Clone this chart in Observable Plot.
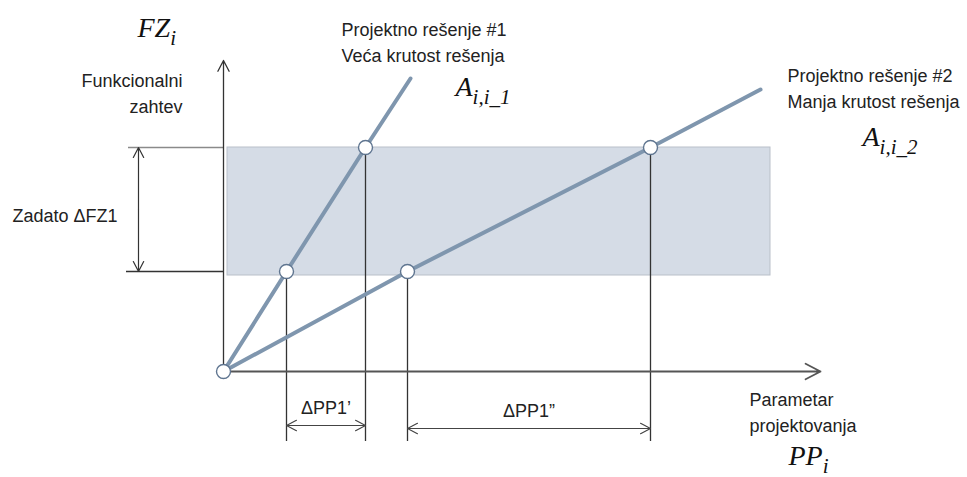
<!DOCTYPE html>
<html><head><meta charset="utf-8">
<script src="https://cdn.jsdelivr.net/npm/d3@7"></script>
<script src="https://cdn.jsdelivr.net/npm/@observablehq/plot@0.6"></script>
<style>html,body{margin:0;padding:0;background:#fff;} svg{display:block;overflow:visible;}</style>
</head><body><div id="chart"></div>
<script>
// Design-space units: origin of FZ (vertical) / PP (horizontal) axes at (0,0)
const fzRequirement = [100, 224];          // lower and upper required FZ
const bandX = [4, 547];
const bandY = [96, 224];
const solution1 = [[0, 0], [63, 100], [142, 224], [187, 293]];
const solution2 = [[0, 0], [184, 100], [427, 224], [537, 282]];
const nodes = [[0, 0], [63, 100], [142, 224], [184, 100], [427, 224]];
const dropPoints = [[63, 100], [142, 224], [184, 100], [427, 224]];
const dropBottom = -70;
const axisEnds = {x: 597, y: 311};
const leftTicks = [[-95, 224, "#8a8a8a"], [-97, 100, "#333"]];
const fzArrowX = -85;
const dimensions = [
  {label: "ΔPP1’", from: 63, to: 142, y: -54, ly: -37},
  {label: "ΔPP1”", from: 184, to: 427, y: -57, ly: -40}
];
const textLabels = [
  {text: "Zadato ΔFZ1", x: -211, y: 158, anchor: "start"},
  {text: "Funkcionalni\nzahtev", x: -41, y: 280, anchor: "end"},
  {text: "Projektno rešenje #1\nVeća krutost rešenja", x: 118, y: 331, anchor: "start"},
  {text: "Projektno rešenje #2\nManja krutost rešenja", x: 564, y: 285, anchor: "start"},
  {text: "Parametar\nprojektovanja", x: 526, y: -39, anchor: "start"}
];
const mathLabels = [
  {text: "FZ|i", x: -86, y: 343},
  {text: "A|i,i_1", x: 232, y: 284},
  {text: "A|i,i_2", x: 639, y: 234},
  {text: "PP|i", x: 565, y: -85}
];

const lineColor = "#7f96ae";
const axisColor = "#555";
const sans = "'Liberation Sans Narrow', 'Liberation Sans', Arial, sans-serif";
const serif = "'Liberation Serif', 'DejaVu Serif', serif";

const dimArrows = dimensions.flatMap(d => {
  const m = (d.from + d.to) / 2;
  return [{x1: m, x2: d.from, y: d.y}, {x1: m, x2: d.to, y: d.y}];
});
const fzMid = (fzRequirement[0] + fzRequirement[1]) / 2;
const textStyle = {x: "x", y: "y", text: "text", fontFamily: sans, fontSize: 18, lineHeight: 1.45, fill: "#222"};

const chart = Plot.plot({
  width: 967, height: 477, margin: 0,
  x: {domain: [-223, 744], axis: null},
  y: {domain: [-106, 371], axis: null},
  marks: [
    Plot.rect([{}], {x1: bandX[0], x2: bandX[1], y1: bandY[0], y2: bandY[1], fill: "#d5dce6", stroke: "#b9c0c9", strokeWidth: 1}),
    Plot.ruleY(leftTicks, {y: d => d[1], x1: d => d[0], x2: 0, stroke: d => d[2], strokeWidth: 1.3}),
    Plot.arrow([{y1: fzMid, y2: fzRequirement[1]}, {y1: fzMid, y2: fzRequirement[0]}], {x1: fzArrowX, x2: fzArrowX, y1: "y1", y2: "y2", stroke: "#333", strokeWidth: 1.2, headLength: 14, headAngle: 55}),
    Plot.ruleX(dropPoints, {x: d => d[0], y1: d => d[1], y2: dropBottom, stroke: "#333", strokeWidth: 1.3}),
    Plot.arrow([{}], {x1: 0, y1: 0, x2: axisEnds.x, y2: 0, stroke: axisColor, strokeWidth: 1.8, headLength: 14, headAngle: 55}),
    Plot.arrow([{}], {x1: 0, y1: 0, x2: 0, y2: axisEnds.y, stroke: "#333", strokeWidth: 1.3, headLength: 14, headAngle: 55}),
    Plot.arrow(dimArrows, {x1: "x1", x2: "x2", y1: "y", y2: "y", stroke: "#444", strokeWidth: 1.2, headLength: 14, headAngle: 55}),
    Plot.line(solution1, {x: d => d[0], y: d => d[1], stroke: lineColor, strokeWidth: 4}),
    Plot.line(solution2, {x: d => d[0], y: d => d[1], stroke: lineColor, strokeWidth: 4}),
    Plot.dot(nodes, {x: d => d[0], y: d => d[1], r: 7, fill: "white", stroke: "#5f7590", strokeWidth: 1.4}),
    Plot.text(textLabels, {...textStyle, filter: d => d.anchor === "start", textAnchor: "start"}),
    Plot.text(textLabels, {...textStyle, filter: d => d.anchor === "end", textAnchor: "end"}),
    Plot.text(dimensions, {x: d => (d.from + d.to) / 2, y: "ly", text: "label", fontFamily: sans, fontSize: 18, fill: "#222"}),
    Plot.text(mathLabels, {x: "x", y: "y", text: "text", textAnchor: "start", fontFamily: serif, fontStyle: "italic", fontSize: 28, fill: "#111"})
  ]
});

// turn "base|sub" into real subscript tspans
d3.select(chart).selectAll("text").each(function() {
  const t = this.textContent;
  if (!t.includes("|")) return;
  const [base, sub] = t.split("|");
  const el = d3.select(this);
  el.text(null);
  el.append("tspan").text(base);
  el.append("tspan").attr("font-size", "0.75em").attr("dy", "0.35em").text(sub);
});

document.getElementById("chart").append(chart);
</script>
</body></html>
